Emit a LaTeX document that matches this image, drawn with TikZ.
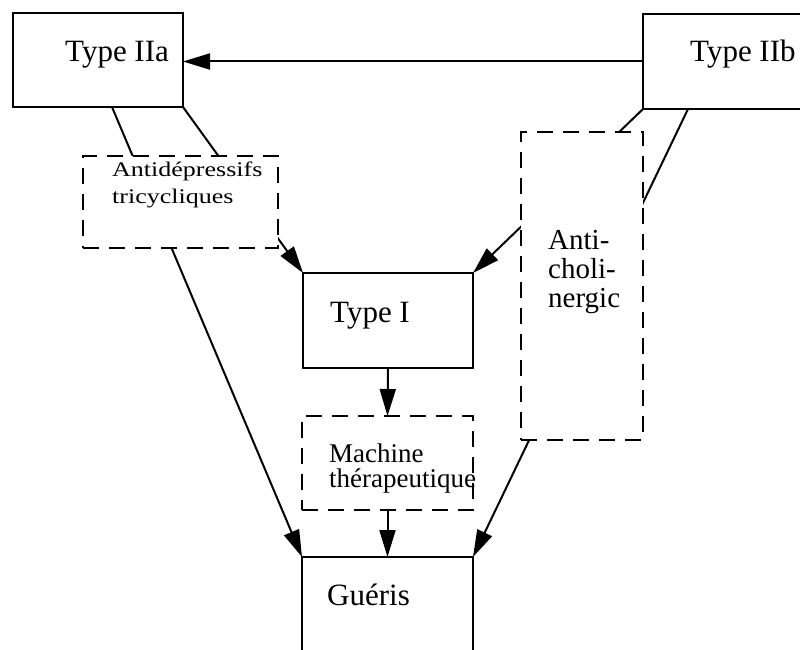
\documentclass[tikz,border=0pt]{standalone}
\usepackage{fontspec}
\setmainfont{Liberation Serif}
\usepackage{graphicx}
\usetikzlibrary{arrows.meta,calc}
\begin{document}
\begin{tikzpicture}[x=1pt,y=-1pt,
  solidbox/.style={draw,line width=2pt,inner sep=0pt,outer sep=0pt,fill=white},
  dashbox/.style={draw,line width=2pt,inner sep=0pt,outer sep=0pt,fill=white,dash pattern=on 16pt off 10pt},
  arr/.style={line width=2pt,-{Triangle[length=27pt,width=16pt]}},
  bigtxt/.style={inner sep=0pt,anchor=base west,font=\fontsize{31}{31}\selectfont},
  midtxt/.style={inner sep=0pt,anchor=base west,font=\fontsize{29}{29}\selectfont},
  smalltxt/.style={inner sep=0pt,anchor=base west,font=\fontsize{27}{27}\selectfont}]
\useasboundingbox (0,0) rectangle (800,650);
\fill[white] (0,0) rectangle (800,650);
\clip (0,0) rectangle (800,650);

% solid boxes
\node[solidbox,minimum width=170pt,minimum height=94pt] (t2a) at (98,60) {};
\node[solidbox,minimum width=187pt,minimum height=95pt] (t2b) at (736.5,61.5) {};
\node[solidbox,minimum width=170pt,minimum height=95pt] (t1) at (388,320.5) {};
\node[solidbox,minimum width=171pt,minimum height=133pt] (gue) at (387.5,623.5) {};

% connectors passing under dashed boxes
\draw[arr] (t2b.west) -- (t2b.west -| t2a.east);
\draw[arr] ($(t2a.south west)+(99,0)$) -- (gue.north west);
\draw[arr] (t2a.south east) -- (t1.north west);
\draw[arr] (t2b.south west) -- (t1.north east);
\draw[arr] ($(t2b.south west)+(45,0)$) -- (gue.north east);

% dashed boxes
\node[dashbox,minimum width=195pt,minimum height=92pt] (adt) at (180.5,202) {};
\node[dashbox,minimum width=122pt,minimum height=308pt] (ach) at (582,286) {};
\node[dashbox,minimum width=171pt,minimum height=94pt] (mac) at (387.5,463) {};

\draw[arr] (t1.south) -- (mac.north);
\draw[arr] (mac.south) -- (gue.north);

% texts
\node[bigtxt] (l2a) at (65,62) {Type IIa};
\node[bigtxt] (l2b) at (690,62) {Type IIb};
\node[bigtxt] (l1) at (330,322) {Type I};
\node[bigtxt] (lg) at (327,605) {Guéris};
\node[inner sep=0pt,anchor=base west,font=\fontsize{26}{26}\selectfont] (la1) at (112,176) {\scalebox{1}[0.8]{Antidépressifs}};
\node[inner sep=0pt,anchor=base west,font=\fontsize{26}{26}\selectfont] (la2) at (112,203) {\scalebox{1}[0.8]{tricycliques}};
\node[midtxt] (lc1) at (548,249) {Anti-};
\node[midtxt] (lc2) at (548,278) {choli-};
\node[midtxt] (lc3) at (548,307) {nergic};
\node[smalltxt] (lm1) at (329,462) {Machine};
\node[smalltxt] (lm2) at (329,487) {thérapeutique};
\end{tikzpicture}
\end{document}
